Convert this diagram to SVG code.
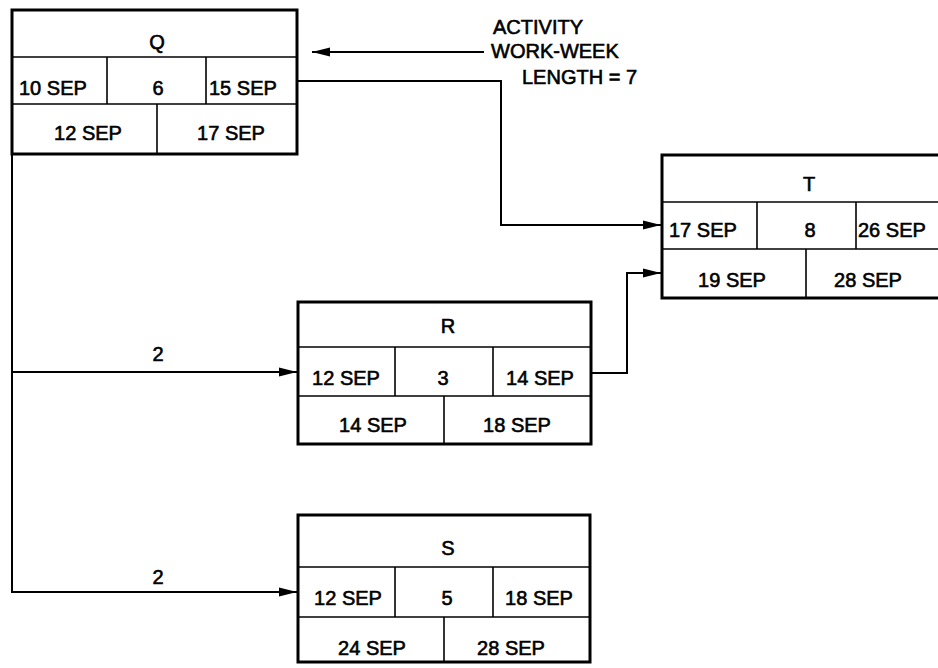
<svg xmlns="http://www.w3.org/2000/svg" width="938" height="668" viewBox="0 0 938 668">
  <style>
    .box { fill: #fff; stroke: #000; stroke-width: 3; }
    .cell { stroke: #000; stroke-width: 1.6; fill: none; }
    .conn { stroke: #000; stroke-width: 2; fill: none; }
    text { font-family: "Liberation Sans", Arial, sans-serif; font-size: 20px; fill: #000; stroke: #000; stroke-width: 0.6; }
    .c { text-anchor: middle; }
  </style>
  <defs>
    <marker id="arrow" viewBox="0 0 18 10" refX="18" refY="5" markerWidth="18" markerHeight="10" markerUnits="userSpaceOnUse" orient="auto">
      <path d="M0,0.5 L18,5 L0,9.5 Z" fill="#000"/>
    </marker>
  </defs>
  <rect width="938" height="668" fill="#fff"/>

  <!-- connectors -->
  <g id="connectors">
    <polyline class="conn" points="297,81 501,81 501,225 661,225" marker-end="url(#arrow)"/>
    <polyline class="conn" points="591,373 627,373 627,273 661,273" marker-end="url(#arrow)"/>
    <polyline class="conn" points="12,154 12,592 297,592" marker-end="url(#arrow)"/>
    <line class="conn" x1="12" y1="372" x2="297" y2="372" marker-end="url(#arrow)"/>
    <line class="conn" x1="484" y1="52" x2="312" y2="52" marker-end="url(#arrow)"/>
    <text class="c" x="158" y="361">2</text>
    <text class="c" x="158" y="584">2</text>
  </g>

  <!-- legend -->
  <g id="legend">
    <text x="493" y="34">ACTIVITY</text>
    <text x="491" y="58">WORK-WEEK</text>
    <text x="522" y="84">LENGTH = 7</text>
  </g>

  <!-- activity Q -->
  <g id="node-Q">
    <rect class="box" x="12" y="10" width="285" height="144"/>
    <line class="cell" x1="12" y1="57" x2="297" y2="57"/>
    <line class="cell" x1="12" y1="104" x2="297" y2="104"/>
    <line class="cell" x1="107" y1="57" x2="107" y2="104"/>
    <line class="cell" x1="206" y1="57" x2="206" y2="104"/>
    <line class="cell" x1="157" y1="104" x2="157" y2="154"/>
    <text class="c" x="157" y="49">Q</text>
    <text x="19" y="95">10 SEP</text>
    <text class="c" x="158" y="95">6</text>
    <text x="209" y="95">15 SEP</text>
    <text class="c" x="88" y="140">12 SEP</text>
    <text class="c" x="231" y="140">17 SEP</text>
  </g>

  <!-- activity T -->
  <g id="node-T">
    <rect class="box" x="662" y="155" width="290" height="143"/>
    <line class="cell" x1="662" y1="202" x2="952" y2="202"/>
    <line class="cell" x1="662" y1="249" x2="952" y2="249"/>
    <line class="cell" x1="757" y1="202" x2="757" y2="249"/>
    <line class="cell" x1="856" y1="202" x2="856" y2="249"/>
    <line class="cell" x1="806" y1="249" x2="806" y2="298"/>
    <text class="c" x="809" y="191">T</text>
    <text x="669" y="237">17 SEP</text>
    <text class="c" x="810" y="237">8</text>
    <text x="858" y="237">26 SEP</text>
    <text class="c" x="732" y="287">19 SEP</text>
    <text class="c" x="868" y="287">28 SEP</text>
  </g>

  <!-- activity R -->
  <g id="node-R">
    <rect class="box" x="298" y="302" width="293" height="142"/>
    <line class="cell" x1="298" y1="347" x2="591" y2="347"/>
    <line class="cell" x1="298" y1="396" x2="591" y2="396"/>
    <line class="cell" x1="395" y1="347" x2="395" y2="396"/>
    <line class="cell" x1="493" y1="347" x2="493" y2="396"/>
    <line class="cell" x1="444" y1="396" x2="444" y2="444"/>
    <text class="c" x="448" y="333">R</text>
    <text class="c" x="346" y="385">12 SEP</text>
    <text class="c" x="443" y="385">3</text>
    <text class="c" x="540" y="385">14 SEP</text>
    <text class="c" x="373" y="432">14 SEP</text>
    <text class="c" x="517" y="432">18 SEP</text>
  </g>

  <!-- activity S -->
  <g id="node-S">
    <rect class="box" x="298" y="515" width="292" height="147"/>
    <line class="cell" x1="298" y1="567" x2="590" y2="567"/>
    <line class="cell" x1="298" y1="617" x2="590" y2="617"/>
    <line class="cell" x1="395" y1="567" x2="395" y2="617"/>
    <line class="cell" x1="493" y1="567" x2="493" y2="617"/>
    <line class="cell" x1="444" y1="617" x2="444" y2="662"/>
    <text class="c" x="448" y="555">S</text>
    <text class="c" x="348" y="605">12 SEP</text>
    <text class="c" x="447" y="605">5</text>
    <text class="c" x="539" y="605">18 SEP</text>
    <text class="c" x="372" y="655">24 SEP</text>
    <text class="c" x="511" y="655">28 SEP</text>
  </g>
</svg>
